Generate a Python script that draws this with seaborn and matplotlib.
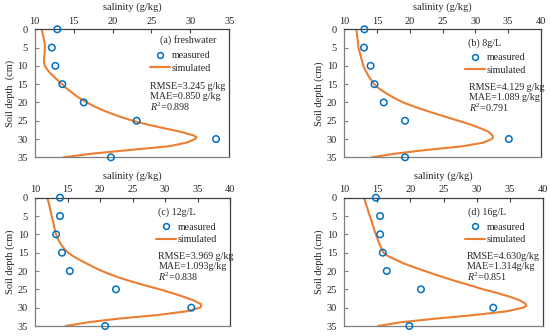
import numpy as np
import pandas as pd
import matplotlib
matplotlib.use("Agg")
import matplotlib.pyplot as plt
import seaborn as sns
from matplotlib.lines import Line2D

# measured salinity (g/kg) at each depth
depth_meas = [0, 5, 10, 15, 20, 25, 30, 35]
meas_a = [12.9, 12.2, 12.65, 13.55, 16.3, 23.1, 33.3, 19.8]
meas_b = [13.1, 13.05, 14.05, 14.65, 16.05, 19.3, 35.1, 19.3]
meas_c = [13.85, 13.85, 13.25, 14.15, 15.35, 22.45, 34.05, 20.8]
meas_d = [14.8, 15.45, 15.45, 15.85, 16.45, 21.6, 32.5, 19.85]

# simulated profiles
depth_sim = [0, 1, 2, 3, 4, 5, 6, 7, 8, 9, 10, 11, 12, 13, 14, 15, 16, 17, 18, 19, 20,
             21, 22, 23, 24, 25, 26, 27, 28, 29, 29.5, 30, 31, 32, 33, 34, 35]
sim_a = [10.9, 11.0, 11.1, 11.2, 11.3, 11.3, 11.3, 11.25, 11.2, 11.2, 11.3, 11.6, 12.0,
         12.5, 13.0, 13.5, 14.0, 14.6, 15.2, 15.9, 16.7, 17.6, 18.6, 19.8, 21.1, 22.6,
         24.4, 26.5, 28.7, 30.4, 30.8, 30.6, 29.5, 27.2, 22.2, 17.4, 13.7]
sim_b = [11.9, 11.95, 12.0, 12.1, 12.15, 12.2, 12.35, 12.5, 12.65, 12.8, 12.95, 13.2, 13.5,
         13.8, 14.2, 14.6, 15.2, 16.0, 16.9, 17.9, 19.0, 20.5, 22.1, 23.8, 25.6, 27.4,
         29.2, 30.7, 32.0, 32.6, 32.7, 32.5, 31.2, 28.0, 22.5, 17.8, 14.2]
sim_c = [11.9, 12.05, 12.2, 12.3, 12.45, 12.56, 12.7, 12.85, 12.95, 13.1, 13.23, 13.45, 13.75,
         14.1, 14.55, 15.1, 15.9, 16.9, 18.0, 19.1, 20.3, 21.7, 23.3, 25.1, 27.1, 29.2,
         31.1, 32.8, 34.4, 35.5, 35.6, 35.4, 33.3, 28.9, 22.8, 18.1, 14.7]
sim_d = [13.0, 13.2, 13.35, 13.55, 13.7, 13.9, 14.1, 14.25, 14.45, 14.6, 14.8, 15.0, 15.2,
         15.45, 15.7, 15.95, 16.7, 17.9, 19.1, 20.6, 22.2, 23.8, 25.5, 27.3, 29.2, 31.0,
         33.1, 35.0, 36.5, 37.4, 37.5, 37.0, 34.5, 29.7, 23.7, 18.5, 15.1]

panel_labels = ["(a) freshwater", "(b) 8g/L", "(c) 12g/L", "(d) 16g/L"]
stats = [["RMSE=3.245 g/kg", "MAE=0.850 g/kg", "0.898"],
         ["RMSE=4.129 g/kg", "MAE=1.089 g/kg", "0.791"],
         ["RMSE=3.969 g/kg", "MAE=1.093g/kg", "0.838"],
         ["RMSE=4.630g/kg", "MAE=1.314g/kg", "0.851"]]
xmax = [35, 40, 40, 40]
ylabels = ["Soil depth  (cm)", "Soil depth (cm)", "Soil depth (cm)", "Soil depth (cm)"]

sns.set_theme(style="ticks")
plt.rcParams["font.family"] = ["Liberation Serif", "DejaVu Serif"]
plt.rcParams["mathtext.fontset"] = "custom"
plt.rcParams["mathtext.rm"] = "Liberation Serif"
plt.rcParams["mathtext.it"] = "Liberation Serif:italic"

BLUE = "#0070C0"
ORANGE = "#ED7D31"
FS = 7.2

fig = plt.figure(figsize=(5.5, 3.36), dpi=100)
W, H = 550, 336
# axes boxes in pixels: left, right, top, bottom
boxes = [(34.7, 229.3, 29.3, 157.3), (344, 541, 29.3, 157.3),
         (35, 230, 197.7, 326), (344, 543, 197.7, 326)]
# text placement (axes fraction): panel label, legend upper-left, first stats row
layout = [
    dict(lab=(0.644, 0.92), leg=(0.593, 0.83), st=(0.593, 0.553)),
    dict(lab=(0.63, 0.89), leg=(0.615, 0.812), st=(0.636, 0.548)),
    dict(lab=(0.632, 0.888), leg=(0.622, 0.805), st=(0.632, 0.54)),
    dict(lab=(0.625, 0.89), leg=(0.608, 0.805), st=(0.617, 0.54)),
]

meas = [meas_a, meas_b, meas_c, meas_d]
sims = [sim_a, sim_b, sim_c, sim_d]

for i in range(4):
    l, r, t, b = boxes[i]
    ax = fig.add_axes([l / W, 1 - b / H, (r - l) / W, (b - t) / H])
    sim_df = pd.DataFrame({"depth": depth_sim, "salinity": sims[i]})
    meas_df = pd.DataFrame({"depth": depth_meas, "salinity": meas[i]})
    sns.lineplot(data=sim_df, x="salinity", y="depth", sort=False, estimator=None,
                 color=ORANGE, linewidth=1.5, ax=ax)
    sns.scatterplot(data=meas_df, x="salinity", y="depth", marker="o", s=22,
                    color=BLUE, linewidth=1.1, ax=ax, zorder=5, clip_on=False)
    ax.collections[-1].set_facecolor("none")
    ax.collections[-1].set_edgecolor(BLUE)

    ax.set_xlim(10, xmax[i])
    ax.set_ylim(35, 0)
    ax.set_yticks(range(0, 36, 5))
    ax.set_xticks(range(10, xmax[i] + 1, 5))
    ax.xaxis.tick_top()
    ax.xaxis.set_label_position("top")
    ax.set_xlabel("salinity (g/kg)", fontsize=7.5, labelpad=5)
    ax.set_ylabel(ylabels[i], fontsize=7.5, labelpad=2)
    ax.tick_params(axis="x", direction="in", length=3, width=0.8, pad=2.5,
                   labelsize=7.5, color="#404040")
    ax.tick_params(axis="y", direction="in", length=3, width=0.8, pad=5,
                   labelsize=7.5, color="#7f7f7f")
    for side in ["top", "right"]:
        ax.spines[side].set_visible(True)
        ax.spines[side].set_color("#404040")
        ax.spines[side].set_linewidth(0.9)
    for side in ["left", "bottom"]:
        ax.spines[side].set_color("#7f7f7f")
        ax.spines[side].set_linewidth(0.9)

    lay = layout[i]
    ax.text(lay["lab"][0], lay["lab"][1], panel_labels[i], transform=ax.transAxes,
            fontsize=FS, ha="left", va="center")
    handles = [Line2D([], [], linestyle="none", marker="o", markersize=4.2,
                      markerfacecolor="none", markeredgecolor=BLUE, markeredgewidth=1.1),
               Line2D([], [], color=ORANGE, linewidth=1.5)]
    ax.legend(handles, ["measured", "simulated"], loc="upper left",
              bbox_to_anchor=lay["leg"], frameon=False, fontsize=FS,
              borderpad=0, borderaxespad=0, handlelength=2.0, handletextpad=0.15,
              labelspacing=0.35)
    sx, sy = lay["st"]
    ax.text(sx, sy, stats[i][0], transform=ax.transAxes, fontsize=FS, ha="left", va="center")
    ax.text(sx, sy - 0.08, stats[i][1], transform=ax.transAxes, fontsize=FS, ha="left", va="center")
    ax.text(sx, sy - 0.16, r"$R^2$=" + stats[i][2], transform=ax.transAxes, fontsize=FS,
            ha="left", va="center")

fig.savefig("out.png", dpi=100)
